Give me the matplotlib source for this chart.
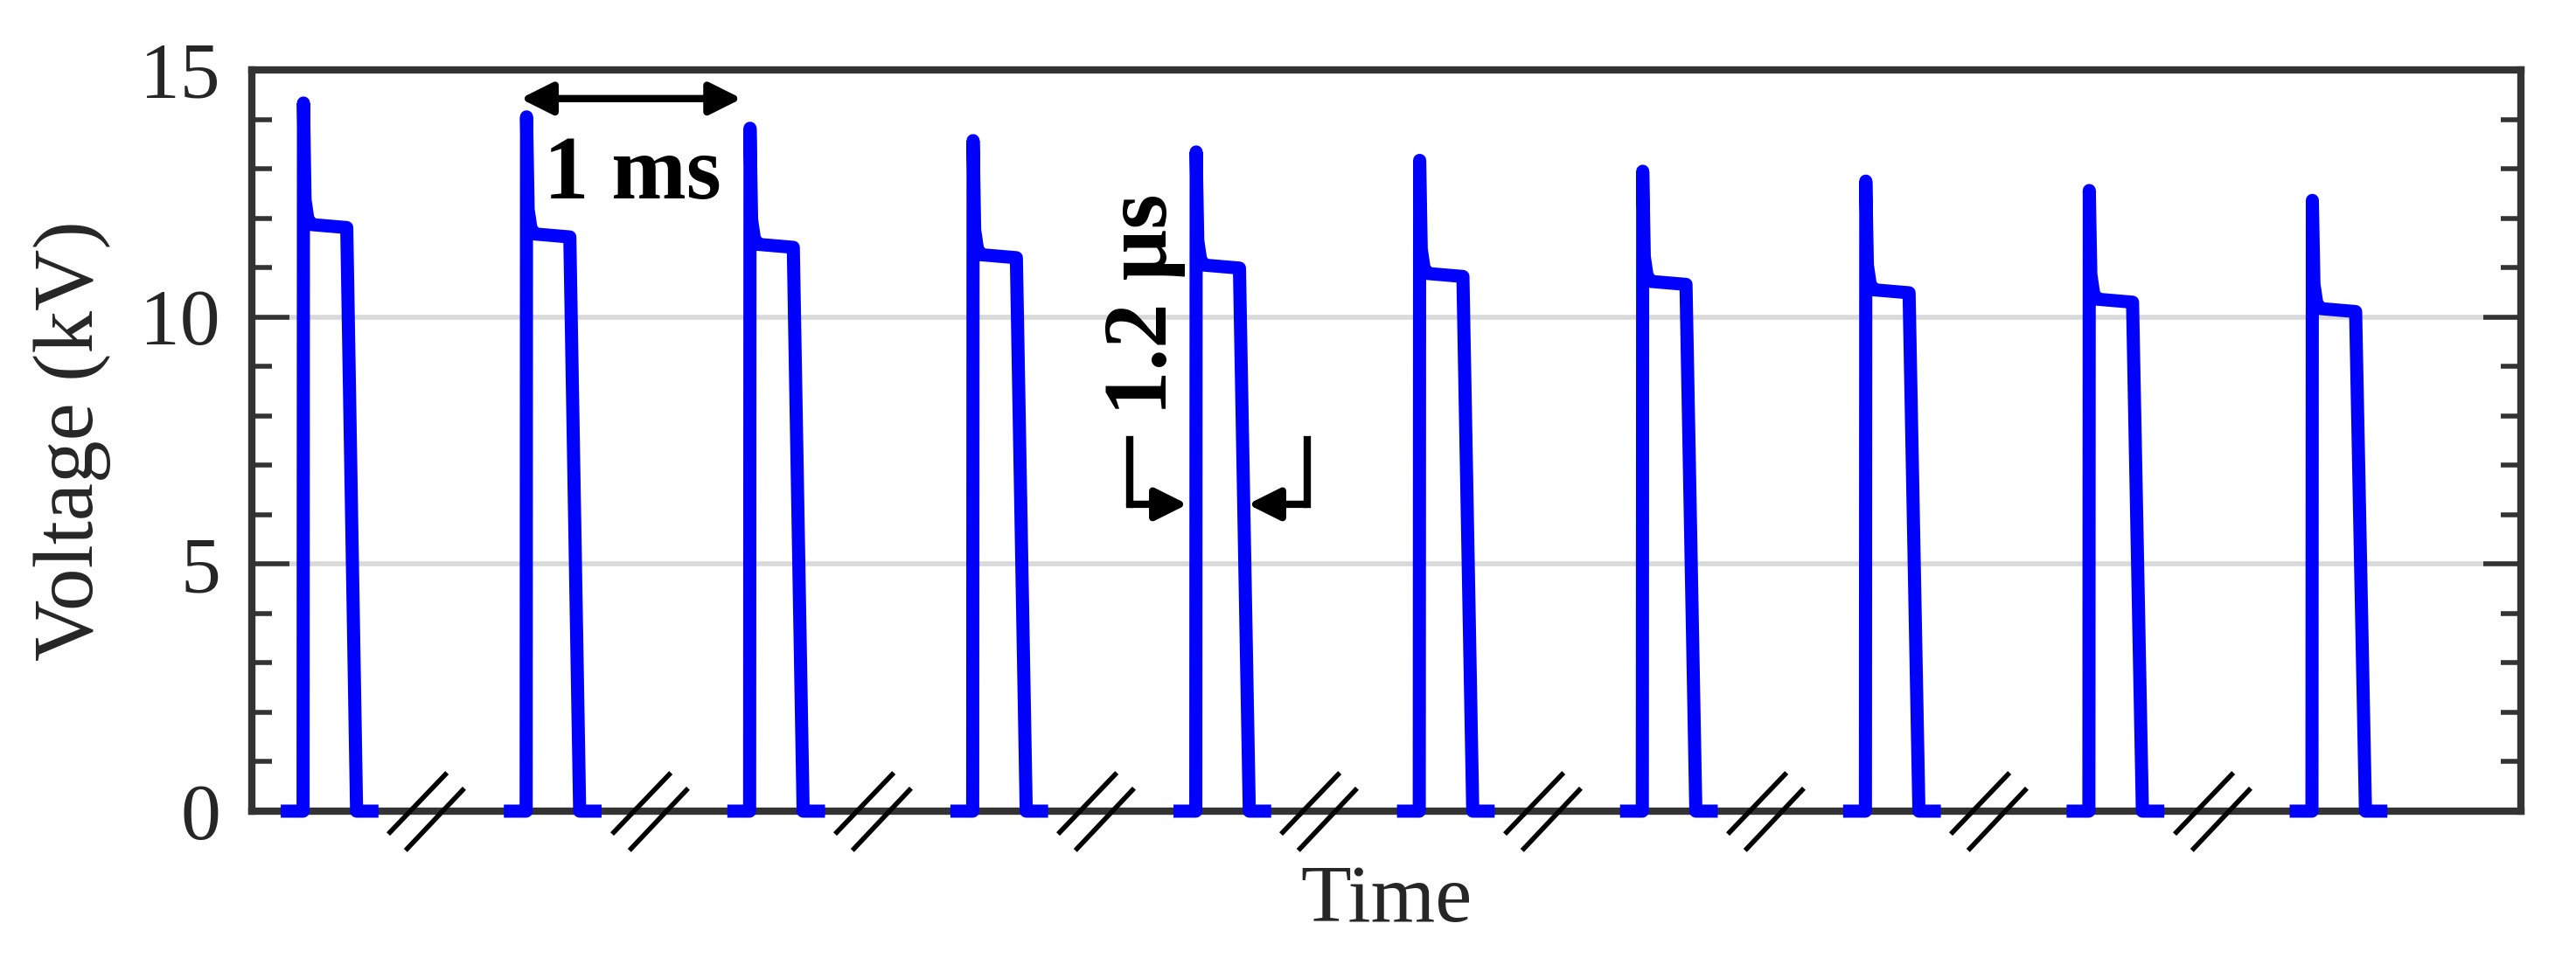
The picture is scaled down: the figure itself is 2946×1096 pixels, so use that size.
import numpy as np
import matplotlib.pyplot as plt
from matplotlib.path import Path
from matplotlib.ticker import MultipleLocator

plt.rcParams['font.family'] = ['Liberation Serif', 'DejaVu Serif']

# pulse train (kV)
peak_kv = [14.33, 14.05, 13.82, 13.57, 13.34, 13.17, 12.95, 12.75, 12.56, 12.36]
plateau_kv = [11.87, 11.68, 11.47, 11.26, 11.05, 10.88, 10.72, 10.55, 10.36, 10.17]
# rising edge of each pulse on the compressed time axis (us)
rise_us = [1.30, 6.97, 12.65, 18.32, 23.99, 29.67, 35.34, 41.01, 46.69, 52.36]
# axis breaks between pulses
break_us = [4.43, 10.10, 15.78, 21.45, 27.12, 32.80, 38.47, 44.14, 49.82]
# outline of one pulse, time after rising edge (us)
shape_t = [-0.40, 0.0, 0.01, 0.05, 0.12, 0.22, 1.11, 1.36, 1.75]


def pulse_trace(peak, plateau):
    """Voltage points matching shape_t for one pulse"""
    return [0, 0, peak, plateau + 0.5, plateau + 0.12, plateau,
            plateau - 0.06, 0, 0]


fig = plt.figure(figsize=(14.73, 5.48), dpi=200)
ax = fig.add_axes([0.0978, 0.1533, 0.8808, 0.7737])

for t0, pk, pl in zip(rise_us, peak_kv, plateau_kv):
    t = t0 + np.array(shape_t)
    ax.plot(t, pulse_trace(pk, pl), color='#0000ff', lw=5.4,
            clip_on=False, zorder=3)

# double slash break marks on the time axis
brk = Path([(-44, -26), (24, 45), (-24, -45), (44, 27)],
           [Path.MOVETO, Path.LINETO, Path.MOVETO, Path.LINETO])
ax.plot(break_us, [0] * len(break_us), ls='none', marker=brk, ms=32,
        mec='k', mfc='none', mew=2, clip_on=False, zorder=4)

ax.set_xlim(0, 57.67)
ax.set_ylim(0, 15)
ax.set_xticks([])
ax.set_yticks([0, 5, 10, 15])
ax.yaxis.set_minor_locator(MultipleLocator(1))
ax.tick_params(axis='y', which='both', direction='in', left=True,
               right=True, colors='#333333', labelcolor='#262626',
               labelsize=33, pad=13)
ax.tick_params(axis='y', which='major', length=15.5, width=2)
ax.tick_params(axis='y', which='minor', length=8.3, width=2)
for sp in ax.spines.values():
    sp.set_linewidth(3)
    sp.set_color('#333333')
ax.yaxis.grid(True, which='major', color='#d9d9d9', lw=2)
ax.set_axisbelow(True)

ax.set_ylabel('Voltage (kV)', fontsize=35, color='#262626', labelpad=12)
ax.set_xlabel('Time', fontsize=34, color='#262626', labelpad=22)

# 1 ms period marker
ax.annotate('', xy=(rise_us[1] - 0.15, 14.42),
            xytext=(rise_us[2] - 0.2, 14.42),
            arrowprops=dict(arrowstyle='<|-|>,head_length=1.1,head_width=0.55',
                            mutation_scale=10, lw=3, color='k',
                            shrinkA=0, shrinkB=0))
ax.text(9.67, 12.4, '1 ms', ha='center', va='baseline', fontsize=37,
        fontweight='bold')

# 1.2 us pulse width marker
for xc, xtip in [(22.31, 23.78), (26.82, 25.31)]:
    ax.plot([xc, xc], [7.52, 6.21], color='k', lw=3,
            solid_capstyle='projecting')
    ax.annotate('', xy=(xtip, 6.21), xytext=(xc, 6.21),
                arrowprops=dict(arrowstyle='-|>,head_length=1.1,head_width=0.55',
                                mutation_scale=10, lw=3, color='k',
                                shrinkA=0, shrinkB=0))
ax.text(22.69, 10.26, '1.2 µs', rotation=90, ha='center', va='center',
        fontsize=37, fontweight='bold')

fig.savefig('out.png', dpi=200)
